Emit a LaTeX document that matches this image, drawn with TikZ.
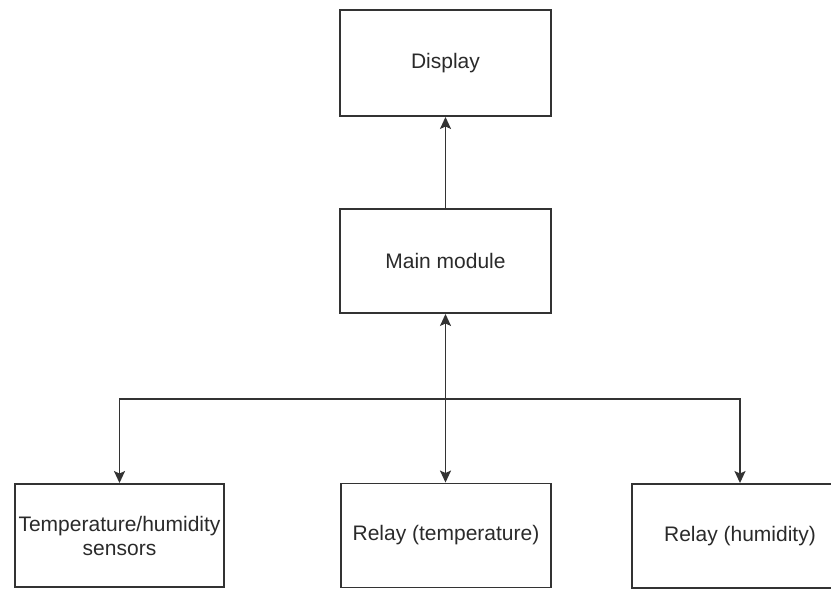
\documentclass[tikz,border=0pt]{standalone}
\usepackage{fontspec}
\setmainfont{Liberation Sans}
\usetikzlibrary{arrows.meta}
\definecolor{linec}{HTML}{333333}
\definecolor{textc}{HTML}{2A2A2A}
\tikzset{
  blockbox/.style={draw=linec, line width=1.9pt, rectangle, inner sep=0pt,
    font=\fontsize{21}{24}\selectfont, text=textc, align=center},
  conn/.style={draw=linec, line width=1.8pt},
  arr/.style={conn, -{Stealth[length=12pt,width=11pt,inset=2.5pt]}}
}
\begin{document}
\begin{tikzpicture}[x=1pt,y=-1pt]
\useasboundingbox (0,0) rectangle (831,590);
\clip (0,0) rectangle (831,590);
\node[blockbox, minimum width=211pt, minimum height=106pt] (disp) at (445.5,63) {Display};
\node[blockbox, minimum width=211pt, minimum height=104pt] (main) at (445.5,261) {Main module};
\node[blockbox, minimum width=209pt, minimum height=103pt] (sens) at (119.5,535.5) {Temperature/humidity\\sensors};
\node[blockbox, minimum width=210pt, minimum height=104pt] (rt) at (446,535.5) {Relay (temperature)};
\node[blockbox, minimum width=216pt, minimum height=104pt] (rh) at (740,536) {Relay (humidity)};
\coordinate (j) at (445.5,399);
\draw[arr] (main.north) -- (disp.south);
\draw[arr] (j) -- (main.south);
\draw[arr] (j) -| (sens.north);
\draw[arr] (j) -- (j |- rt.north);
\draw[arr] (j) -| (rh.north);
\end{tikzpicture}
\end{document}
